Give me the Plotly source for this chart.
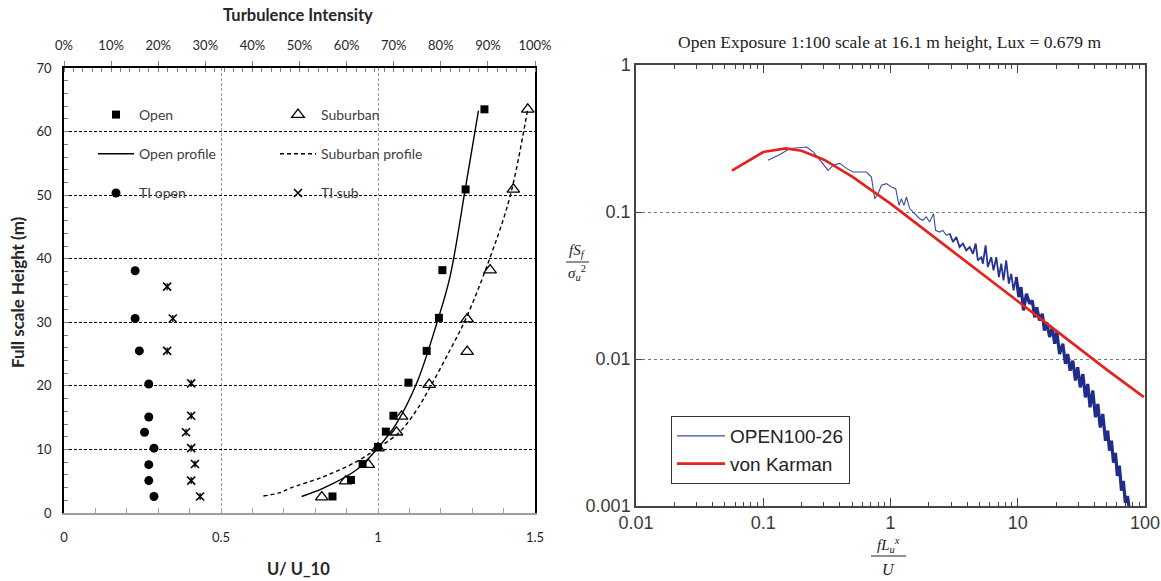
import plotly.graph_objects as go

W, H = 1161, 581

# ---------------- Left panel: mean wind speed and turbulence intensity profiles ----------------
open_height = [2.6, 5.2, 7.7, 10.4, 12.8, 15.3, 20.5, 25.5, 30.7, 38.2, 50.9, 63.5]
open_u = [0.855, 0.914, 0.951, 1.0, 1.025, 1.049, 1.097, 1.155, 1.194, 1.205, 1.279, 1.339]

sub_height = [2.5, 5.0, 7.6, 10.2, 12.7, 15.2, 20.2, 25.4, 30.5, 38.2, 50.9, 63.5]
sub_u = [0.821, 0.897, 0.969, 1.0, 1.059, 1.075, 1.163, 1.284, 1.284, 1.357, 1.431, 1.477]

open_profile_height = [2.6, 3.9, 6.8, 10.2, 14.1, 20.4, 29.8, 37.1, 50.7, 63.3]
open_profile_u = [0.757, 0.826, 0.932, 0.999, 1.059, 1.123, 1.187, 1.229, 1.277, 1.320]

sub_profile_height = [2.67, 3.2, 3.9, 5.7, 8.1, 10.2, 12.8, 16.2, 19.8, 25.6, 30.8, 40.2, 49.7, 63.3]
sub_profile_u = [0.635, 0.688, 0.720, 0.826, 0.932, 0.999, 1.070, 1.123, 1.166, 1.229, 1.282, 1.357, 1.420, 1.476]

ti_open_height = [2.6, 5.1, 7.6, 10.2, 12.7, 15.1, 20.3, 25.5, 30.6, 38.1]
ti_open = [0.191, 0.180, 0.180, 0.191, 0.171, 0.180, 0.180, 0.160, 0.151, 0.151]

ti_sub_height = [2.6, 5.1, 7.7, 10.2, 12.7, 15.3, 20.4, 25.5, 30.6, 35.6]
ti_sub = [0.289, 0.270, 0.278, 0.270, 0.259, 0.270, 0.270, 0.219, 0.231, 0.219]

# ---------------- Right panel: normalised longitudinal velocity spectrum ----------------
spec_f = [0.109, 0.135, 0.162, 0.219, 0.247, 0.324, 0.354, 0.399, 0.451, 0.508, 0.647, 0.708,
          0.751, 0.798, 0.849, 0.929, 1.016, 1.099, 1.167, 1.217, 1.276, 1.333, 1.416, 1.503,
          1.597, 1.695, 1.80, 1.91, 2.03, 2.18, 2.26, 2.43, 2.58, 2.75, 2.92,
          3.10, 3.29, 3.49, 3.71, 3.94, 4.19, 4.45, 4.67, 4.86, 5.17, 5.32, 5.59, 5.82, 6.19,
          6.45, 6.78, 7.11, 7.42, 7.73, 8.11, 8.51, 8.89, 9.27, 9.73, 10.2, 10.6, 11.1, 11.7,
          12.4, 13.0, 13.6, 14.1, 14.8, 15.6, 16.2, 16.9, 17.8, 18.7, 19.5, 20.3, 21.3, 22.6,
          23.7, 24.7, 25.8, 27.1, 28.4, 29.6, 31.0, 32.5, 34.0, 35.5, 37.0, 38.9, 40.8, 42.6,
          44.5, 46.6, 48.9, 50.9, 52.6, 54.5, 56.5, 58.6, 60.7, 62.9, 65.3, 67.6, 70.1, 72.8, 75.5]
spec_s = [0.225, 0.246, 0.2705, 0.277, 0.2565, 0.192, 0.208, 0.214, 0.198, 0.187, 0.187, 0.173,
          0.123, 0.133, 0.152, 0.156, 0.148, 0.144, 0.111, 0.123, 0.111, 0.1265, 0.1055, 0.100,
          0.095, 0.090, 0.0878, 0.0925, 0.0855, 0.0975, 0.075, 0.073, 0.075, 0.0694, 0.0713,
          0.0625, 0.0676, 0.0578, 0.061, 0.0548, 0.0578, 0.052, 0.061, 0.0469, 0.0493, 0.0445,
          0.0593, 0.0422, 0.0493, 0.0401, 0.0493, 0.0361, 0.0445, 0.0342, 0.0469, 0.0325, 0.038,
          0.0293, 0.0361, 0.0264, 0.0308, 0.0214, 0.0278, 0.0238, 0.0250, 0.0192, 0.0225, 0.0183,
          0.0203, 0.0156, 0.0178, 0.0141, 0.0164, 0.0127, 0.0152, 0.0108, 0.0127, 0.00926, 0.0108,
          0.00833, 0.00975, 0.00713, 0.00878, 0.00641, 0.0079, 0.00548, 0.00676, 0.00469, 0.0061,
          0.00401, 0.00494, 0.00342, 0.00423, 0.00278, 0.00325, 0.00238, 0.00278, 0.00197, 0.0023,
          0.0016, 0.00188, 0.00127, 0.00148, 0.00105, 0.00117, 0.00093]

karman_f = [0.0567, 0.1, 0.15, 0.2, 0.3, 0.5, 1, 2, 5, 10, 20, 50, 98]
karman_s = [0.191, 0.256, 0.271, 0.261, 0.227, 0.174, 0.114, 0.0722, 0.0393, 0.0248, 0.0156, 0.00846, 0.0055]

spectrum_title = "Open Exposure 1:100 scale at 16.1 m height, Lux = 0.679 m"


def px(x):
    return x / W


def py(y):
    return 1 - y / H


LEFT_FONT = "Lato, 'Open Sans', sans-serif"
RIGHT_FONT = "'Liberation Sans', Arial, sans-serif"
SERIF = "'Liberation Serif', 'Times New Roman', serif"

fig = go.Figure()

# column 1 of the profile legend
fig.add_trace(go.Scatter(x=open_u, y=open_height, mode="markers", name="Open",
                         marker=dict(symbol="square", size=8, color="black"),
                         xaxis="x", yaxis="y", legend="legend", legendgroup="a1"))
fig.add_trace(go.Scatter(x=open_profile_u, y=open_profile_height, mode="lines", name="Open profile",
                         line=dict(color="black", width=1.4, shape="spline", smoothing=1.0),
                         xaxis="x", yaxis="y", legend="legend", legendgroup="a2"))
fig.add_trace(go.Scatter(x=ti_open, y=ti_open_height, mode="markers", name="TI open",
                         marker=dict(symbol="circle", size=9, color="black"),
                         xaxis="x2", yaxis="y", legend="legend", legendgroup="a3"))

# column 2 of the profile legend
fig.add_trace(go.Scatter(x=sub_u, y=sub_height, mode="markers", name="Suburban",
                         marker=dict(symbol="triangle-up-open", size=11, color="black",
                                     line=dict(width=1.3)),
                         xaxis="x", yaxis="y", legend="legend2", legendgroup="b1"))
fig.add_trace(go.Scatter(x=sub_profile_u, y=sub_profile_height, mode="lines", name="Suburban profile",
                         line=dict(color="black", width=1.4, dash="4px,3px", shape="spline", smoothing=1.0),
                         xaxis="x", yaxis="y", legend="legend2", legendgroup="b2"))
fig.add_trace(go.Scatter(x=ti_sub, y=ti_sub_height, mode="markers", name="TI sub",
                         marker=dict(symbol="x-thin-open", size=8, color="black",
                                     line=dict(width=1.6, color="black")),
                         xaxis="x2", yaxis="y", legend="legend2", legendgroup="b3"))
fig.add_trace(go.Scatter(x=ti_sub, y=ti_sub_height, mode="markers", showlegend=False,
                         marker=dict(symbol="line-ns-open", size=5, color="black",
                                     line=dict(width=1.3, color="black")),
                         xaxis="x2", yaxis="y", legendgroup="b3", hoverinfo="skip"))

# spectrum: thin low-frequency part, a noisy middle part and the dense high-frequency band
cut1, cut2 = 35, 59
fig.add_trace(go.Scatter(x=spec_f[:cut1], y=spec_s[:cut1], mode="lines", name="OPEN100-26",
                         line=dict(color="#3a4aa6", width=1.1),
                         xaxis="x3", yaxis="y3", legend="legend3", legendgroup="s"))
fig.add_trace(go.Scatter(x=spec_f[cut1 - 1:cut2], y=spec_s[cut1 - 1:cut2], mode="lines", showlegend=False,
                         line=dict(color="#26348f", width=1.8),
                         xaxis="x3", yaxis="y3", legendgroup="s", hoverinfo="skip"))
fig.add_trace(go.Scatter(x=spec_f[cut2 - 1:], y=spec_s[cut2 - 1:], mode="lines", showlegend=False,
                         line=dict(color="#1f2c88", width=3.2),
                         xaxis="x3", yaxis="y3", legendgroup="s", hoverinfo="skip"))
fig.add_trace(go.Scatter(x=karman_f, y=karman_s, mode="lines", name="von Karman",
                         line=dict(color="#e3231c", width=2.7),
                         xaxis="x3", yaxis="y3", legend="legend3", legendgroup="k"))

left_dom_x = [px(64), px(535)]
left_dom_y = [py(513), py(68)]
right_dom_x = [px(636), px(1145)]
right_dom_y = [py(506), py(65)]

tick_font_left = dict(family=LEFT_FONT, size=13, color="#262626")
tick_font_right = dict(family=RIGHT_FONT, size=18, color="#3a3a3a")

minor_x3 = [m * 10 ** e for e in range(-2, 2) for m in range(2, 10)]

fig.update_layout(
    width=W, height=H, margin=dict(l=0, r=0, t=0, b=0, autoexpand=False),
    paper_bgcolor="white", plot_bgcolor="white",
    showlegend=True,
    xaxis=dict(domain=left_dom_x, anchor="y", range=[0, 1.5], automargin=False,
               tickvals=[0, 0.5, 1, 1.5], ticktext=["0", "0.5", "1", "1.5"],
               ticks="inside", ticklen=5, tickcolor="#a0a0a0", ticklabelstandoff=12,
               minor=dict(dtick=0.1, ticks="inside", ticklen=5, tickcolor="#a0a0a0", showgrid=False),
               showline=True, linecolor="#a0a0a0", linewidth=1.5,
               showgrid=True, gridcolor="#9a9a9a", griddash="3px,2px", gridwidth=1,
               zeroline=False, tickfont=tick_font_left),
    xaxis2=dict(domain=left_dom_x, anchor="y", overlaying="x", side="top", range=[0, 1],
                automargin=False, dtick=0.1, tick0=0, tickformat=".0%",
                ticks="outside", ticklen=5, tickcolor="#808080", ticklabelstandoff=6,
                minor=dict(dtick=0.02, ticks="inside", ticklen=4, tickcolor="#808080", showgrid=False),
                showline=True, linecolor="black", linewidth=2,
                showgrid=False, zeroline=False, tickfont=tick_font_left),
    yaxis=dict(domain=left_dom_y, anchor="x", range=[0, 70], dtick=10, tick0=0, automargin=False,
               ticks="inside", ticklen=5, tickcolor="#808080", ticklabelstandoff=8,
               minor=dict(dtick=2, ticks="inside", ticklen=4, tickcolor="#808080", showgrid=False),
               showline=True, linecolor="black", linewidth=1.5, mirror=True,
               showgrid=True, gridcolor="black", griddash="3px,2px", gridwidth=1,
               zeroline=False, tickfont=tick_font_left),
    xaxis3=dict(domain=right_dom_x, anchor="y3", type="log", range=[-2, 2], automargin=False,
                tickvals=[0.01, 0.1, 1, 10, 100], ticktext=["0.01", "0.1", "1", "10", "100"],
                ticks="inside", ticklen=8, tickcolor="#444",
                minor=dict(tickmode="array", tickvals=minor_x3, ticks="inside", ticklen=4,
                           tickcolor="#444", showgrid=False),
                showline=True, linecolor="#444", linewidth=1.5, mirror="allticks",
                showgrid=False, zeroline=False, tickfont=tick_font_right),
    yaxis3=dict(domain=right_dom_y, anchor="x3", type="log", range=[-3, 0], automargin=False,
                tickvals=[0.001, 0.01, 0.1, 1], ticktext=["0.001", "0.01", "0.1", "1"],
                ticks="inside", ticklen=6, tickcolor="#444",
                showline=True, linecolor="#444", linewidth=1.5, mirror="allticks",
                showgrid=True, gridcolor="#777", griddash="dot", gridwidth=1,
                zeroline=False, tickfont=tick_font_right),
    legend=dict(x=px(93), y=py(99), xanchor="left", yanchor="top",
                bgcolor="rgba(0,0,0,0)", borderwidth=0, tracegroupgap=18,
                font=dict(family=LEFT_FONT, size=14, color="#404040"), itemwidth=36),
    legend2=dict(x=px(275), y=py(99), xanchor="left", yanchor="top",
                 bgcolor="rgba(0,0,0,0)", borderwidth=0, tracegroupgap=18,
                 font=dict(family=LEFT_FONT, size=14, color="#404040"), itemwidth=36),
    legend3=dict(x=px(671), y=py(416), xanchor="left", yanchor="top",
                 bgcolor="white", bordercolor="#333", borderwidth=1, tracegroupgap=0,
                 font=dict(family=RIGHT_FONT, size=19, color="#222"), itemwidth=48),
)

annotations = [
    dict(text="<b>Turbulence Intensity</b>", x=px(298), y=py(15),
         font=dict(family=LEFT_FONT, size=16.5, color="#262626")),
    dict(text="<b>Full scale Height (m)</b>", x=px(17), y=py(292), textangle=-90,
         font=dict(family=LEFT_FONT, size=17, color="#262626")),
    dict(text="<b>U/ U_10</b>", x=px(298), y=py(569),
         font=dict(family=LEFT_FONT, size=16.5, color="#262626")),
    dict(text=spectrum_title, x=px(889), y=py(42),
         font=dict(family=SERIF, size=17.5, color="#222")),
    # fraction labels of the spectrum axes
    dict(text="<i>fS</i><sub><i>f</i></sub>", x=px(577), y=py(251),
         font=dict(family=SERIF, size=15, color="#222")),
    dict(text="<i>σ</i><sub><i>u</i></sub><sup>2</sup>", x=px(577), y=py(273),
         font=dict(family=SERIF, size=15, color="#222")),
    dict(text="<i>fL</i><sub><i>u</i></sub><sup><i>x</i></sup>", x=px(888), y=py(545),
         font=dict(family=SERIF, size=15, color="#222")),
    dict(text="<i>U</i>", x=px(888), y=py(569),
         font=dict(family=SERIF, size=16, color="#222")),
]
for a in annotations:
    a.update(xref="paper", yref="paper", showarrow=False, xanchor="center", yanchor="middle")
fig.update_layout(annotations=annotations)

fig.update_layout(shapes=[
    dict(type="line", xref="paper", yref="paper", x0=px(566), x1=px(589), y0=py(262), y1=py(262),
         line=dict(color="#222", width=1)),
    dict(type="line", xref="paper", yref="paper", x0=px(871), x1=px(906), y0=py(556), y1=py(556),
         line=dict(color="#222", width=1)),
])

fig.write_html("out.html")
